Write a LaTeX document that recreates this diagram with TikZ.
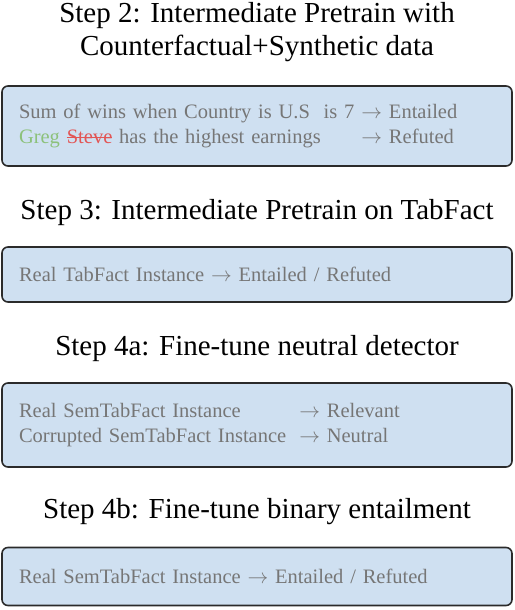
\documentclass[tikz,border=0pt]{standalone}
\usepackage{fontspec}
\setmainfont{LiberationSerif}[Extension=.ttf, UprightFont=*-Regular, BoldFont=*-Bold, ItalicFont=*-Italic, BoldItalicFont=*-BoldItalic]
\usepackage{tikz}

\definecolor{boxfill}{HTML}{CFE0F1}
\definecolor{boxline}{HTML}{2B2B2B}
\definecolor{textgray}{HTML}{767676}
\definecolor{greggreen}{HTML}{8CC17A}
\definecolor{stevered}{HTML}{E25555}

% struck-out word
\newlength{\strikewd}
\newcommand{\strikeword}[1]{\settowidth{\strikewd}{#1}%
  \rlap{\rule[0.27em]{\strikewd}{0.9pt}}#1}

\tikzset{
  steptitle/.style={font=\fontsize{29}{33}\selectfont, align=center, inner sep=0pt},
  stepbox/.style={draw=boxline, line width=1.6pt, fill=boxfill, rounded corners=6pt,
    minimum width=510pt, text width=476pt, inner xsep=17pt, inner ysep=0pt,
    font=\fontsize{20.5}{25}\selectfont, text=textgray, align=left}
}

\begin{document}
\begin{tikzpicture}[x=1pt, y=1pt]
\useasboundingbox (0,0) rectangle (514,-610);

% step 2
\node[steptitle] (titleTwo) at (257,-32) {Step 2: Intermediate Pretrain with\\ Counterfactual+Synthetic data};
\node[stepbox, minimum height=80pt] (boxTwo) at (257,-126)
  {\begin{tabular}{@{}l@{\hspace{7pt}}l@{}}
   Sum of wins when Country is U.S\ \ is 7 & $\rightarrow$ Entailed\\
   {\color{greggreen}Greg} {\color{stevered}\strikeword{Steve}} has the highest earnings & $\rightarrow$ Refuted
   \end{tabular}};

% step 3
\node[steptitle] (titleThree) at (257,-213) {Step 3: Intermediate Pretrain on TabFact};
\node[stepbox, minimum height=55pt] (boxThree) at (257,-274.5)
  {Real TabFact Instance $\rightarrow$ Entailed / Refuted};

% step 4a
\node[steptitle] (titleFourA) at (257,-349) {Step 4a: Fine-tune neutral detector};
\node[stepbox, minimum height=84pt] (boxFourA) at (257,-425)
  {\begin{tabular}{@{}l@{\hspace{13pt}}l@{}}
   Real SemTabFact Instance & $\rightarrow$ Relevant\\
   Corrupted SemTabFact Instance & $\rightarrow$ Neutral
   \end{tabular}};

% step 4b
\node[steptitle] (titleFourB) at (257,-512) {Step 4b: Fine-tune binary entailment};
\node[stepbox, minimum height=58pt] (boxFourB) at (257,-576.5)
  {Real SemTabFact Instance $\rightarrow$ Entailed / Refuted};

\end{tikzpicture}
\end{document}
